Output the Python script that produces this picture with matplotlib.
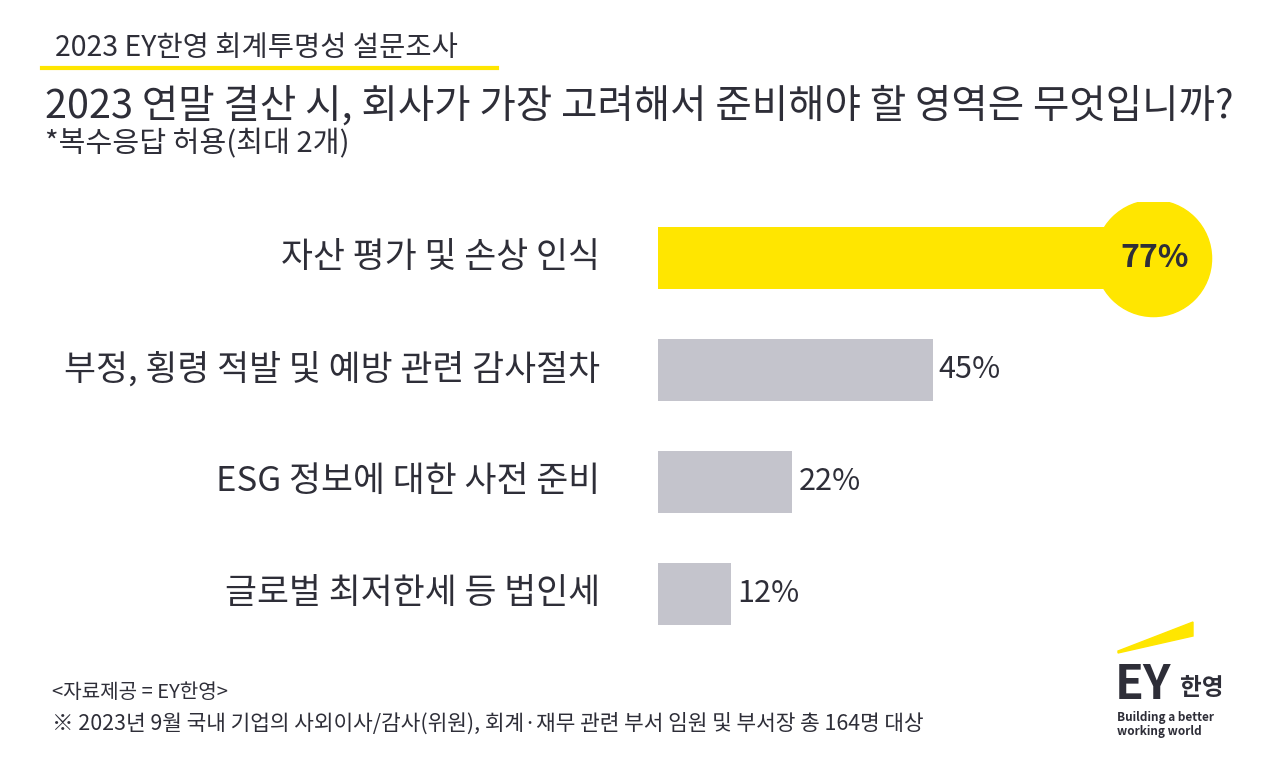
import matplotlib
matplotlib.use("Agg")
import matplotlib.pyplot as plt
from matplotlib.patches import Polygon

plt.rcParams['font.family'] = ['Noto Sans CJK KR', 'DejaVu Sans']

categories = ["자산 평가 및 손상 인식", "부정, 횡령 적발 및 예방 관련 감사절차",
              "ESG 정보에 대한 사전 준비", "글로벌 최저한세 등 법인세"]
values = [77, 45, 22, 12]
labels = ["77%", "45%", "22%", "12%"]

YEL = "#FFE600"; GRY = "#C4C4CC"; TXT = "#2E2E38"
W, H = 1280, 769
fig = plt.figure(figsize=(12.8, 7.69), dpi=100)
bg = fig.add_axes([0, 0, 1, 1]); bg.set_xlim(0, W); bg.set_ylim(H, 0); bg.axis('off')

bg.text(55, 48, "2023 EY한영 회계투명성 설문조사", fontsize=20.5, color=TXT, va='center', fontweight='medium')
bg.plot([42, 497], [68, 68], color=YEL, lw=3)
bg.text(45, 106, "2023 연말 결산 시, 회사가 가장 고려해서 준비해야 할 영역은 무엇입니까?",
        fontsize=28.5, color=TXT, va='center', fontweight='medium')
bg.text(45, 144, "*복수응답 허용(최대 2개)", fontsize=21, color=TXT, va='center', fontweight='medium')
bg.text(52, 692, "<자료제공 = EY한영>", fontsize=14.5, color=TXT, va='center')
bg.text(52, 724, "※ 2023년 9월 국내 기업의 사외이사/감사(위원), 회계·재무 관련 부서 임원 및 부서장 총 164명 대상",
        fontsize=15.4, color=TXT, va='center')
# logo
bg.add_patch(Polygon([[1118, 651], [1193, 622], [1193, 636], [1118, 653]], color=YEL))
bg.text(1115, 685, "EY", fontsize=34, fontweight='bold', color=TXT, va='center')
bg.text(1180, 688, "한영", fontsize=17, fontweight='bold', color=TXT, va='center')
bg.text(1117, 718, "Building a better", fontsize=8.5, fontweight='bold', color=TXT, va='center')
bg.text(1117, 731, "working world", fontsize=8.5, fontweight='bold', color=TXT, va='center')

ax = fig.add_axes([658 / W, 1 - 650 / H, 610 / W, 448 / H])
ax.set_xlim(0, 100); ax.set_ylim(3.5, -0.5); ax.axis('off')
y = list(range(len(values)))
colors = [YEL] + [GRY] * (len(values) - 1)
ax.barh(y, values, height=0.55, color=colors)
ax.scatter([values[0] + 4.1], [0], s=6990, color=YEL, zorder=3)
for i, (v, lab, c) in enumerate(zip(values, labels, categories)):
    ax.text(-9.5, i, c, ha='right', va='center', fontsize=25, color=TXT)
    if i == 0:
        ax.text(v + 10, i, lab, ha='right', va='center', fontsize=23, fontweight='bold',
                color=TXT, zorder=4)
    else:
        ax.text(v + 1, i, lab, ha='left', va='center', fontsize=22, fontweight='medium', color=TXT)

fig.savefig("out.png", dpi=100)
